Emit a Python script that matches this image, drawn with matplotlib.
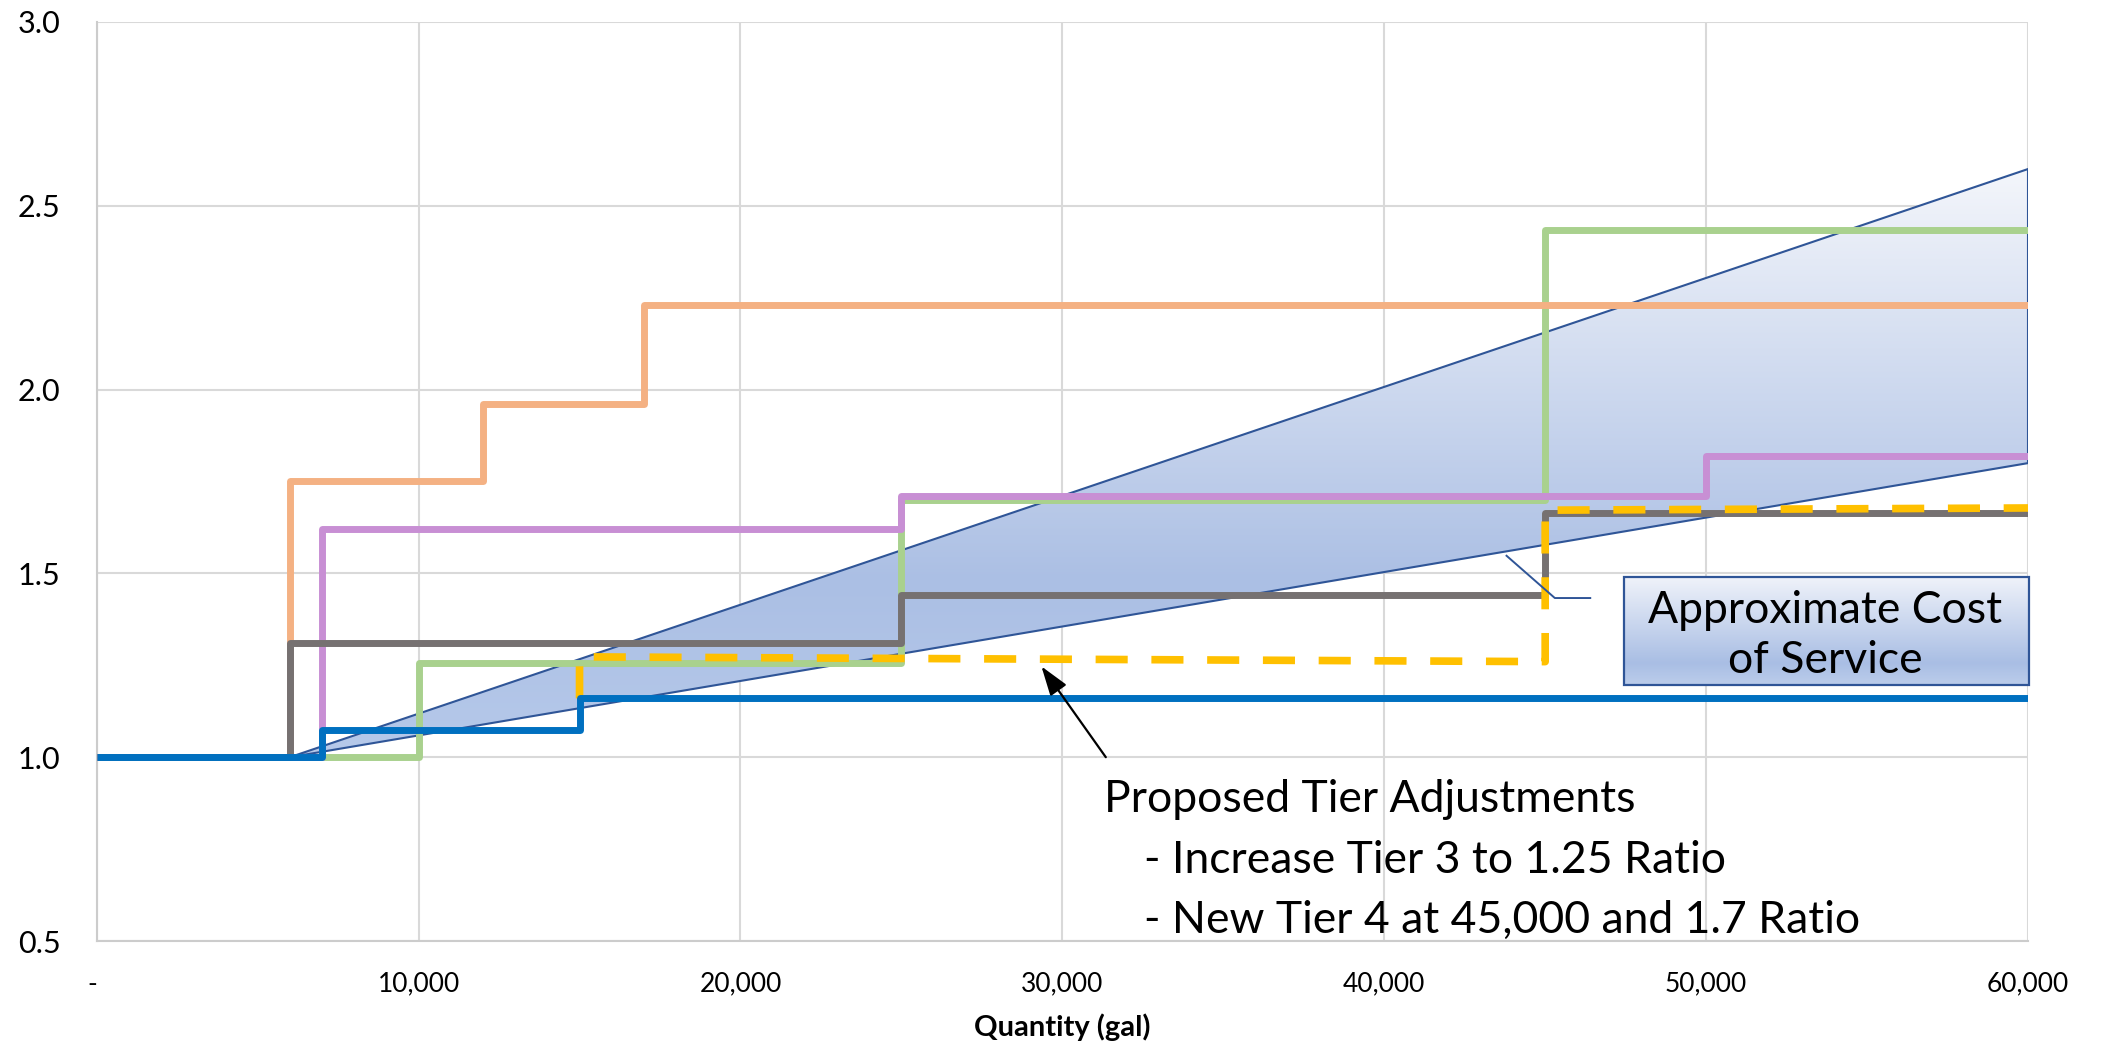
import numpy as np
import matplotlib
matplotlib.use("Agg")
import matplotlib.pyplot as plt
from matplotlib.patches import Polygon, Rectangle
from matplotlib.colors import LinearSegmentedColormap
from matplotlib.ticker import FuncFormatter

# Tier schedules: usage (gal) where each tier starts, and the rate ratio of that tier
blue_x = [0, 7000, 15000, 60000]
blue_y = [1.0, 1.075, 1.16, 1.16]
orange_x = [0, 6000, 12000, 17000, 60000]
orange_y = [1.0, 1.75, 1.96, 2.23, 2.23]
purple_x = [0, 7000, 25000, 50000, 60000]
purple_y = [1.0, 1.62, 1.71, 1.82, 1.82]
gray_x = [0, 6000, 25000, 45000, 60000]
gray_y = [1.0, 1.31, 1.44, 1.665, 1.665]
green_x = [0, 10000, 25000, 45000, 60000]
green_y = [1.0, 1.255, 1.70, 2.435, 2.435]

# Proposed tier adjustments (dashed path)
proposed_x = [15000, 15000, 45000, 45000, 60000]
proposed_y = [1.16, 1.273, 1.26, 1.672, 1.678]

# Approximate cost-of-service band: common start point, low and high ends
cos_x = [6000, 60000, 60000]
cos_y = [1.0, 1.80, 2.60]

x_ticks = [0, 10000, 20000, 30000, 40000, 50000, 60000]
y_ticks = [0.5, 1.0, 1.5, 2.0, 2.5, 3.0]

FONT = ["Lato", "DejaVu Sans"]
plt.rcParams["font.family"] = FONT

fig = plt.figure(figsize=(21.01, 10.47), dpi=100)
ax = fig.add_axes([0.04603, 0.10124, 0.91922, 0.87775])


def gradient_fill(ax, extent, stops, clip_patch, zorder):
    cmap = LinearSegmentedColormap.from_list("grad", stops)
    grad = np.linspace(0, 1, 256).reshape(-1, 1)
    im = ax.imshow(grad, cmap=cmap, extent=extent, origin="lower",
                   aspect="auto", zorder=zorder, interpolation="bicubic")
    im.set_clip_path(clip_patch)
    return im


# Cost-of-service band with a vertical gradient
band = Polygon(np.column_stack([cos_x, cos_y]), closed=True,
               facecolor="none", edgecolor="#2F5597", lw=1.5, zorder=1.6)
ax.add_patch(band)
gradient_fill(ax, [min(cos_x), max(cos_x), min(cos_y), max(cos_y)],
              [(0.0, "#B6C9EA"), (0.3, "#ABBFE4"), (1.0, "#F4F6FB")],
              band, zorder=1.5)

line_kw = dict(lw=5.0, solid_joinstyle="round", solid_capstyle="butt",
               drawstyle="steps-post")
ax.plot(green_x, green_y, color="#A9D18E", zorder=2, **line_kw)
ax.plot(orange_x, orange_y, color="#F4B183", zorder=3, **line_kw)
ax.plot(purple_x, purple_y, color="#C88FD4", zorder=4, **line_kw)
ax.plot(gray_x, gray_y, color="#767171", zorder=5, **line_kw)
ax.plot(proposed_x, proposed_y, color="#FFC000", lw=5.5,
        dashes=(4.2, 3.1), dash_capstyle="butt", zorder=6)
ax.plot(blue_x, blue_y, color="#0070C0", zorder=7, **line_kw)

# Callout box for the band
box = Rectangle((47460, 1.1964), 12560, 0.2938, facecolor="none",
                edgecolor="#2F5597", lw=1.6, zorder=8.1, clip_on=False)
ax.add_patch(box)
gradient_fill(ax, [47460, 60020, 1.1964, 1.4902],
              [(0.0, "#BCCDEB"), (0.2, "#A9BEE4"), (1.0, "#F0F3FA")],
              box, zorder=8)
ax.plot([46400, 45300, 43800], [1.433, 1.433, 1.548], color="#2F5597",
        lw=1.4, zorder=8)
ax.text(53700, 1.366, "Approximate Cost", ha="center", va="baseline",
        fontsize=32, color="black", zorder=9)
ax.text(53700, 1.229, "of Service", ha="center", va="baseline",
        fontsize=32, color="black", zorder=9)

# Note for the proposed changes
ax.annotate("", xy=(29350, 1.247), xytext=(31350, 1.0),
            arrowprops=dict(arrowstyle="-|>,head_length=0.6,head_width=0.2",
                            color="black", lw=1.6, mutation_scale=30,
                            shrinkA=0, shrinkB=0), zorder=9)
ax.text(31300, 0.851, "Proposed Tier Adjustments", ha="left", va="baseline",
        fontsize=32, zorder=9)
ax.text(32550, 0.685, "- Increase Tier 3 to 1.25 Ratio", ha="left",
        va="baseline", fontsize=32, zorder=9)
ax.text(32550, 0.522, "- New Tier 4 at 45,000 and 1.7 Ratio", ha="left",
        va="baseline", fontsize=32, zorder=9)

# Axes styling
ax.set_xlim(0, 60000)
ax.set_ylim(0.5, 3.0)
ax.set_xticks(x_ticks)
ax.set_yticks(y_ticks)
ax.xaxis.set_major_formatter(FuncFormatter(lambda v, p: "- " if v == 0 else f"{int(v):,}"))
ax.yaxis.set_major_formatter(FuncFormatter(lambda v, p: f"{v:.1f}"))
ax.set_axisbelow(True)
ax.grid(True, color="#D9D9D9", lw=1.5, zorder=0)
for side in ("top", "right"):
    ax.spines[side].set_visible(False)
for side in ("left", "bottom"):
    ax.spines[side].set_color("#CCCCCC")
    ax.spines[side].set_linewidth(1.5)
ax.tick_params(axis="both", length=0)
ax.tick_params(axis="y", labelsize=22, pad=26)
ax.tick_params(axis="x", labelsize=19, pad=22)
ax.set_xlabel("Quantity (gal)", fontsize=21, fontweight="bold")
ax.xaxis.set_label_coords(0.5, -0.079)
ax.xaxis.label.set_va("top")

fig.savefig("out.png", dpi=100)
